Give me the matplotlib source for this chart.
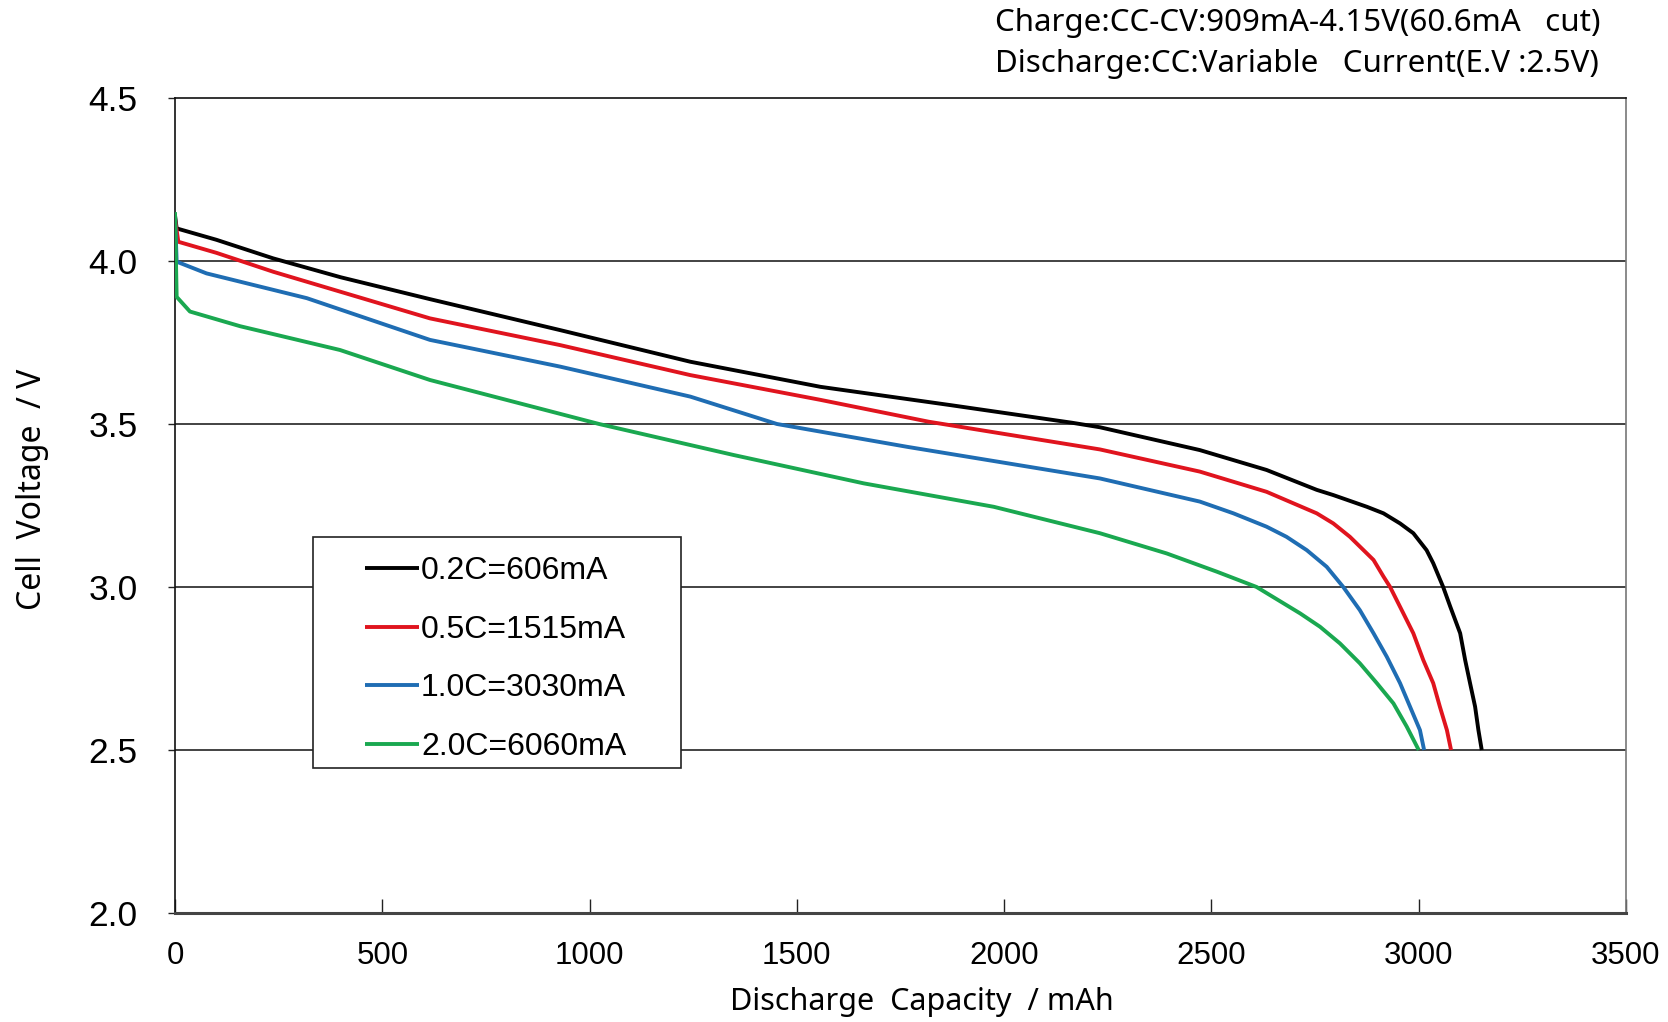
import matplotlib
matplotlib.use("Agg")
import matplotlib.pyplot as plt
from matplotlib.patches import Rectangle

# discharge curves (capacity mAh, voltage V)
black_cap = [0, 4, 100, 237, 400, 615, 929, 1243, 1557, 1870, 2163, 2231, 2472,
             2633, 2754, 2794, 2875, 2915, 2955, 2987, 3019, 3035, 3059, 3076, 3100,
             3112, 3124, 3136, 3144, 3152]
black_v = [4.14, 4.100, 4.065, 4.008, 3.950, 3.883, 3.788, 3.691, 3.614, 3.558, 3.504,
           3.490, 3.420, 3.359, 3.298, 3.282, 3.246, 3.226, 3.195, 3.165, 3.113, 3.073,
           3.000, 2.940, 2.858, 2.776, 2.704, 2.633, 2.561, 2.500]

red_cap = [0, 8, 100, 237, 615, 929, 1243, 1557, 1818, 2231, 2472, 2633, 2754,
           2794, 2834, 2891, 2915, 2931, 2963, 2987, 3011, 3035, 3051, 3068, 3078]
red_v = [4.13, 4.059, 4.025, 3.967, 3.824, 3.742, 3.650, 3.574, 3.507, 3.422, 3.354,
         3.292, 3.226, 3.195, 3.154, 3.083, 3.032, 3.000, 2.919, 2.858, 2.776, 2.705,
         2.633, 2.561, 2.500]

blue_cap = [0, 4, 76, 318, 615, 929, 1243, 1452, 1766, 2231, 2472, 2553, 2633, 2681,
            2730, 2778, 2818, 2858, 2891, 2923, 2955, 2979, 3003, 3013]
blue_v = [4.14, 3.998, 3.962, 3.886, 3.758, 3.676, 3.584, 3.500, 3.430, 3.333, 3.262,
          3.226, 3.185, 3.154, 3.113, 3.062, 3.000, 2.929, 2.858, 2.786, 2.705, 2.633,
          2.561, 2.500]

green_cap = [0, 4, 36, 157, 398, 615, 1023, 1347, 1661, 1975, 2231, 2392, 2513,
             2609, 2714, 2762, 2810, 2858, 2899, 2939, 2971, 3000]
green_v = [4.15, 3.890, 3.845, 3.800, 3.727, 3.635, 3.500, 3.405, 3.318, 3.246, 3.165,
           3.103, 3.047, 3.000, 2.919, 2.878, 2.827, 2.766, 2.705, 2.643, 2.572, 2.500]

labels = ["0.2C=606mA", "0.5C=1515mA", "1.0C=3030mA", "2.0C=6060mA"]
colors = ["#000000", "#e0141e", "#1f6db3", "#1aa850"]

x_ticks = [0, 500, 1000, 1500, 2000, 2500, 3000, 3500]
y_ticks = [2.0, 2.5, 3.0, 3.5, 4.0, 4.5]

W, H = 1668, 1022
fig = plt.figure(figsize=(W / 100, H / 100), dpi=100)
ax = fig.add_axes([175 / W, 1 - 913 / H, (1626 - 175) / W, (913 - 98) / H])

for y in [2.5, 3.0, 3.5, 4.0]:
    ax.axhline(y, color="#222222", lw=1.2, zorder=1)

series = [(black_cap, black_v), (red_cap, red_v), (blue_cap, blue_v), (green_cap, green_v)]
for (cap, v), lab, col in zip(series, labels, colors):
    ax.plot(cap, v, color=col, lw=2.8, label=lab, solid_joinstyle="round",
            solid_capstyle="butt", zorder=3)

ax.set_xlim(0, 3500)
ax.set_ylim(2.0, 4.5)
ax.set_xticks(x_ticks)
ax.set_yticks(y_ticks)
ax.set_yticklabels([f"{t:.1f}" for t in y_ticks])

tick_font = "Liberation Sans"
for lab in ax.get_xticklabels():
    lab.set_fontfamily(tick_font)
    lab.set_fontsize(22.5)
for lab in ax.get_yticklabels():
    lab.set_fontfamily(tick_font)
    lab.set_fontsize(25.5)
ax.tick_params(axis="x", direction="in", length=10, width=1, pad=20, color="#222222")
ax.tick_params(axis="y", direction="out", length=5, width=1, pad=22, color="#222222")

for side in ["left", "top"]:
    ax.spines[side].set_color("#111111")
    ax.spines[side].set_linewidth(1.2)
ax.spines["right"].set_color("#777777")
ax.spines["right"].set_linewidth(1.2)
ax.spines["bottom"].set_color("#444444")
ax.spines["bottom"].set_linewidth(2.2)

label_font = "Noto Sans"
fig.text(922 / W, 1 - 1002 / H, "Discharge  Capacity  / mAh", ha="center", va="center",
         fontsize=22, family=label_font)
fig.text(33 / W, 1 - 489 / H, "Cell  Voltage  / V", ha="center", va="center",
         rotation=90, fontsize=23, family=label_font)

fig.text(995 / W, 1 - 23 / H, "Charge:CC-CV:909mA-4.15V(60.6mA   cut)",
         ha="left", va="center", fontsize=22.5, family=label_font)
fig.text(995 / W, 1 - 64 / H, "Discharge:CC:Variable   Current(E.V :2.5V)",
         ha="left", va="center", fontsize=22.5, family=label_font)

# legend box drawn separately (wider side padding than matplotlib's borderpad)
box = Rectangle((313 / W, 1 - 768 / H), (681 - 313) / W, (768 - 537) / H,
                transform=fig.transFigure, facecolor="white", edgecolor="#222222",
                lw=1.2, zorder=4, clip_on=False)
ax.add_patch(box)

leg = ax.legend(loc="upper left", bbox_to_anchor=(365 / W, 1 - 556 / H),
                bbox_transform=fig.transFigure, frameon=False,
                prop={"family": tick_font, "size": 23}, handlelength=1.7,
                handletextpad=0.05, labelspacing=0.9, borderpad=0, borderaxespad=0)
leg.set_zorder(5)

fig.savefig("out.png", dpi=100)
